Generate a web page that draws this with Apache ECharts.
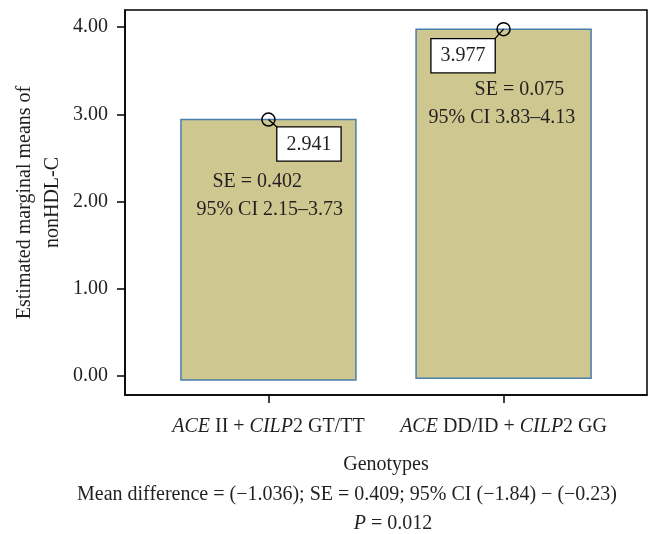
<!DOCTYPE html>
<html>
<head>
<meta charset="utf-8">
<script src="https://cdn.jsdelivr.net/npm/echarts@6/dist/echarts.min.js"></script>
<style>html,body{margin:0;padding:0;background:#fff;}#c{width:660px;height:534px;}</style>
</head>
<body>
<div id="c"></div>
<script>
// ---- data ----
var categories = ['ACE II + CILP2 GT/TT', 'ACE DD/ID + CILP2 GG'];
var means = [2.941, 3.977];
var barBases = [-0.045, -0.025];
var meanLabels = ['2.941', '3.977'];
var seTexts = ['SE = 0.402', 'SE = 0.075'];
var ciTexts = ['95% CI 2.15\u20133.73', '95% CI 3.83\u20134.13'];
var yTicks = [0, 1, 2, 3, 4];
var yAxisName = 'Estimated marginal means of\nnonHDL-C';
var xAxisName = 'Genotypes';
var captionLine = 'Mean difference = (\u22121.036); SE = 0.409; 95% CI (\u22121.84) \u2212 (\u22120.23)';
var pLine = ['P', ' = 0.012'];

// ---- layout / style ----
var FONT = "'Liberation Serif', 'Times New Roman', serif";
var TXT = '#231f20';
var BAR_W = 175;
var boxLayout = [{dx: 9, dy: 8, align: 'left'}, {dx: -9, dy: 10, align: 'right'}];
var seLayout = [{dx: -56, dy: 62}, {dx: -29, dy: 61}];
var ciLayout = [{dx: -72, dy: 90.5}, {dx: -75, dy: 89}];

var chart = echarts.init(document.getElementById('c'), null, {renderer: 'canvas'});

var seriesData = means.map(function (m, i) { return [i + 1, m, barBases[i], i]; });

function italicize(s) {
  return s.replace(/ACE/g, '{i|ACE}').replace(/CILP/g, '{i|CILP}');
}

var option = {
  animation: false,
  backgroundColor: '#fff',
  grid: {left: 125, right: 13, top: 10, bottom: 139, show: true, borderColor: '#000', borderWidth: 1.5,
    backgroundColor: 'transparent', containLabel: false, outerBoundsMode: 'none'},
  xAxis: {
    type: 'value', min: 0.39, max: 2.61,
    name: xAxisName, nameLocation: 'middle', nameGap: 60, nameMoveOverlap: false,
    nameTextStyle: {fontFamily: FONT, fontSize: 20, color: TXT},
    axisLine: {show: true, onZero: false, lineStyle: {color: '#000', width: 1.5}},
    axisTick: {show: true, length: 8, customValues: [1, 2], lineStyle: {color: '#000', width: 1.5}},
    axisLabel: {
      customValues: [1, 2], margin: 22,
      fontFamily: FONT, fontSize: 20, color: TXT,
      formatter: function (v) { return italicize(categories[Math.round(v) - 1] || ''); },
      rich: {i: {fontFamily: FONT, fontSize: 20, fontStyle: 'italic', color: TXT}}
    },
    splitLine: {show: false}
  },
  yAxis: {
    type: 'value', min: -0.218, max: 4.197,
    name: yAxisName, nameLocation: 'middle', nameRotate: 90, nameGap: 58, nameMoveOverlap: false,
    nameTextStyle: {fontFamily: FONT, fontSize: 20, color: TXT, lineHeight: 28},
    axisLine: {show: true, onZero: false, lineStyle: {color: '#000', width: 1.5}},
    axisTick: {show: true, length: 8, customValues: yTicks, lineStyle: {color: '#000', width: 1.5}},
    axisLabel: {
      customValues: yTicks, margin: 17,
      fontFamily: FONT, fontSize: 20, color: TXT,
      formatter: function (v) { return v.toFixed(2); }
    },
    splitLine: {show: false}
  },
  series: [{
    type: 'custom',
    clip: false,
    data: seriesData,
    renderItem: function (params, api) {
      var i = api.value(3);
      var top = api.coord([api.value(0), api.value(1)]);
      var base = api.coord([api.value(0), api.value(2)]);
      var cx = top[0], ty = top[1];
      var bl = boxLayout[i], se = seLayout[i], ci = ciLayout[i];
      var bx = cx + bl.dx, by = ty + bl.dy;
      return {
        type: 'group',
        children: [
          {type: 'rect', shape: {x: cx - BAR_W / 2, y: ty, width: BAR_W, height: base[1] - ty},
            style: {fill: '#cec890', stroke: '#4a7eab', lineWidth: 1.5}},
          {type: 'line', shape: {x1: cx, y1: ty, x2: bx, y2: by},
            style: {stroke: '#000', lineWidth: 1.3}},
          {type: 'circle', shape: {cx: cx, cy: ty, r: 6.5},
            style: {fill: null, stroke: '#000', lineWidth: 1.5}},
          {type: 'text', x: bx, y: by,
            style: {text: meanLabels[i], font: '20px ' + FONT, fill: TXT,
              align: bl.align, verticalAlign: 'top',
              backgroundColor: '#fff', borderColor: '#000', borderWidth: 1.3,
              padding: [7, 9, 6, 9]}},
          {type: 'text', x: cx + se.dx, y: ty + se.dy,
            style: {text: seTexts[i], font: '20px ' + FONT, fill: TXT, align: 'left', verticalAlign: 'middle'}},
          {type: 'text', x: cx + ci.dx, y: ty + ci.dy,
            style: {text: ciTexts[i], font: '20px ' + FONT, fill: TXT, align: 'left', verticalAlign: 'middle'}}
        ]
      };
    }
  }],
  graphic: [
    {type: 'text', x: 347, y: 495,
      style: {text: captionLine, font: '20px ' + FONT, fill: TXT, align: 'center', verticalAlign: 'middle'}},
    {type: 'text', x: 393, y: 524,
      style: {text: '{i|' + pLine[0] + '}' + pLine[1], font: '20px ' + FONT, fill: TXT, align: 'center', verticalAlign: 'middle',
        rich: {i: {font: 'italic 20px ' + FONT, fill: TXT}}}}
  ]
};
chart.setOption(option);
</script>
</body>
</html>
